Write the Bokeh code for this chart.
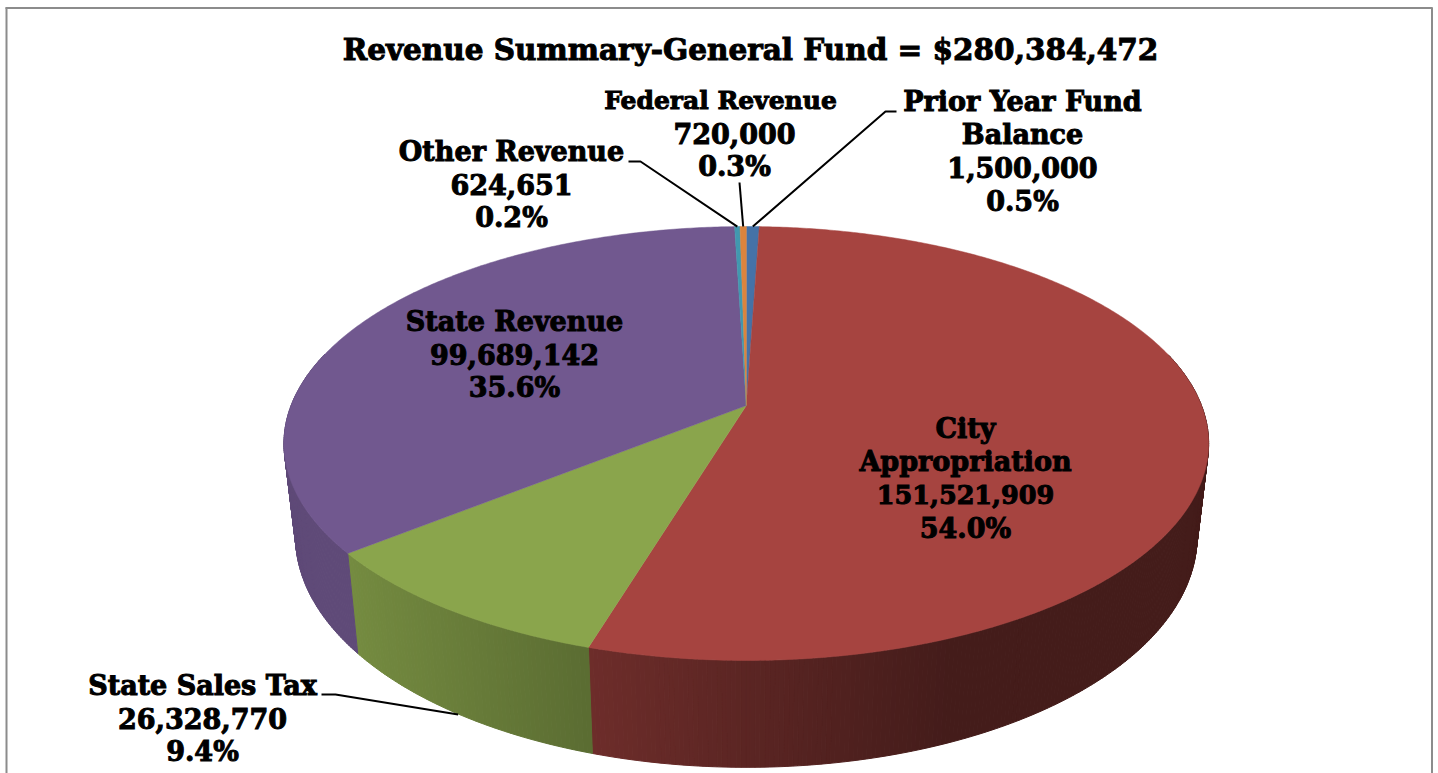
import numpy as np
from bokeh.plotting import figure
from bokeh.models import ColumnDataSource
from bokeh.core.properties import value
from bokeh.embed import file_html
from bokeh.resources import INLINE

# ---- data (clockwise from 12 o'clock, as drawn) ----
categories = ["Prior Year Fund Balance", "City Appropriation", "State Sales Tax",
              "State Revenue", "Other Revenue", "Federal Revenue"]
amounts = [1500000, 151521909, 26328770, 99689142, 624651, 720000]
title_text = "Revenue Summary-General Fund = $280,384,472"
name_lines = [["Prior Year Fund", "Balance"], ["City", "Appropriation"], ["State Sales Tax"],
              ["State Revenue"], ["Other Revenue"], ["Federal Revenue"]]
top_colors = [(69, 114, 167), (166, 68, 64), (138, 165, 76),
              (113, 88, 143), (65, 152, 175), (219, 132, 61)]

# ---- layout ----
W, H = 1438, 773
APEX = (745.8, 405.0)
K = 0.1751            # perspective strength
A, B = 455.2, 210.3   # projected radii
DEPTH_SX, DEPTH_SY, DEPTH_DY = 0.975, 1.065, 64.0
SHADE_X = [350, 590, 950]
SHADE_F = [0.84, 0.655, 0.41]
LABEL_X = [1022, 965, 202, 514, 511, 734]
LABEL_Y = [101, 428, 685, 321, 151, 100]
LABEL_DY = 33.2
LEADER_KNEE = {0: [(896, 111), (885, 111)], 2: [(321, 694), (335, 694)],
               4: [(628, 161), (640, 161)], 5: [(739, 182)]}
FONT = "DejaVu Serif"
LABEL_SIZE = "27px"
TITLE_SIZE = "29.5px"


def warp(deg):
    # small correction of the lens for the lower-left of the rim
    return deg + 1.0 * np.exp(-((deg - 240.0) / 40.0) ** 2)


def rim(deg):
    t = np.radians(warp(deg))
    u, v = np.sin(t), -np.cos(t)
    w = 1 - K * v
    return APEX[0] + A * u / w, APEX[1] + B * v / w


def lower(x, y):
    return APEX[0] + DEPTH_SX * (x - APEX[0]), DEPTH_SY * y + DEPTH_DY


def rgb(c):
    return "#%02x%02x%02x" % tuple(int(round(a)) for a in c)


total = sum(amounts)
edges = np.concatenate([[0], np.cumsum(amounts)]) / total * 360.0

p = figure(width=W, height=H, x_range=(0, W), y_range=(H, 0), output_backend="svg",
           toolbar_location=None, min_border=0, outline_line_color=None,
           background_fill_color="white", border_fill_color="white")
p.axis.visible = False
p.grid.visible = False

# frame
p.multi_line([[6, 6], [5, 1432], [1431.5, 1431.5]], [[7, H], [7.5, 7.5], [7, H]],
             line_color="#8c8c8c", line_width=2)

# side wall, thin shaded strips along the near half of the rim
sx, sy, sc = [], [], []
for i, col in enumerate(top_colors):
    a0, a1 = edges[i], edges[i + 1]
    n = max(2, int((a1 - a0) / 0.5))
    ang = np.linspace(a0, a1, n + 1)
    for d0, d1 in zip(ang[:-1], ang[1:]):
        if np.cos(np.radians((d0 + d1) / 2)) > 0.25:
            continue
        x0, y0 = rim(d0)
        x1, y1 = rim(d1)
        x2, y2 = lower(x1, y1)
        x3, y3 = lower(x0, y0)
        f = np.interp((x0 + x1) / 2, SHADE_X, SHADE_F)
        if i == 3:
            f = max(f, 0.84)
        sx.append([x0, x1, x2, x3])
        sy.append([y0, y1, y2, y3])
        sc.append(rgb([c * f for c in col]))
p.patches(sx, sy, fill_color=sc, line_color=sc, line_width=1)

# top face
tx, ty, tc = [], [], []
for i, col in enumerate(top_colors):
    ang = np.linspace(edges[i], edges[i + 1], max(3, int((edges[i + 1] - edges[i]) / 0.5)))
    xs, ys = rim(ang)
    tx.append([APEX[0]] + list(xs))
    ty.append([APEX[1]] + list(ys))
    tc.append(rgb(col))
p.patches(tx, ty, fill_color=tc, line_color=tc, line_width=0.5)

# leader lines: from the label to the slice's rim
for i, knee in LEADER_KNEE.items():
    mid = (edges[i] + edges[i + 1]) / 2
    ex, ey = rim(mid)
    if i == 2:
        ex, ey = 457.6, 714
    px = [k[0] for k in knee] + [ex]
    py = [k[1] for k in knee] + [ey]
    p.line(px, py, line_color="black", line_width=2)

# texts
lx, ly, lt, ls = [], [], [], []
for i in range(len(categories)):
    pct = amounts[i] / total * 100
    lines = name_lines[i] + [f"{amounts[i]:,}", f"{pct:.1f}%"]
    for j, s in enumerate(lines):
        size, dx = LABEL_SIZE, 0
        if s == "Federal Revenue":
            size, dx = "25px", -14
        elif s == f"{amounts[1]:,}":
            size = "25.5px"
        lx.append(LABEL_X[i] + dx)
        ly.append(LABEL_Y[i] + j * LABEL_DY)
        lt.append(s)
        ls.append(size)
src = ColumnDataSource(dict(x=lx, y=ly, text=lt, size=ls))
p.text("x", "y", text="text", source=src, text_font=value(FONT), text_font_style="bold",
       text_font_size="size", text_align="center", text_baseline="middle", text_color="black",
       text_outline_color="black")
p.text([750], [49], text=[title_text], text_font=value(FONT), text_font_style="bold",
       text_font_size=TITLE_SIZE, text_align="center", text_baseline="middle", text_color="black",
       text_outline_color="black")

open("out.html", "w").write(file_html(p, INLINE))
